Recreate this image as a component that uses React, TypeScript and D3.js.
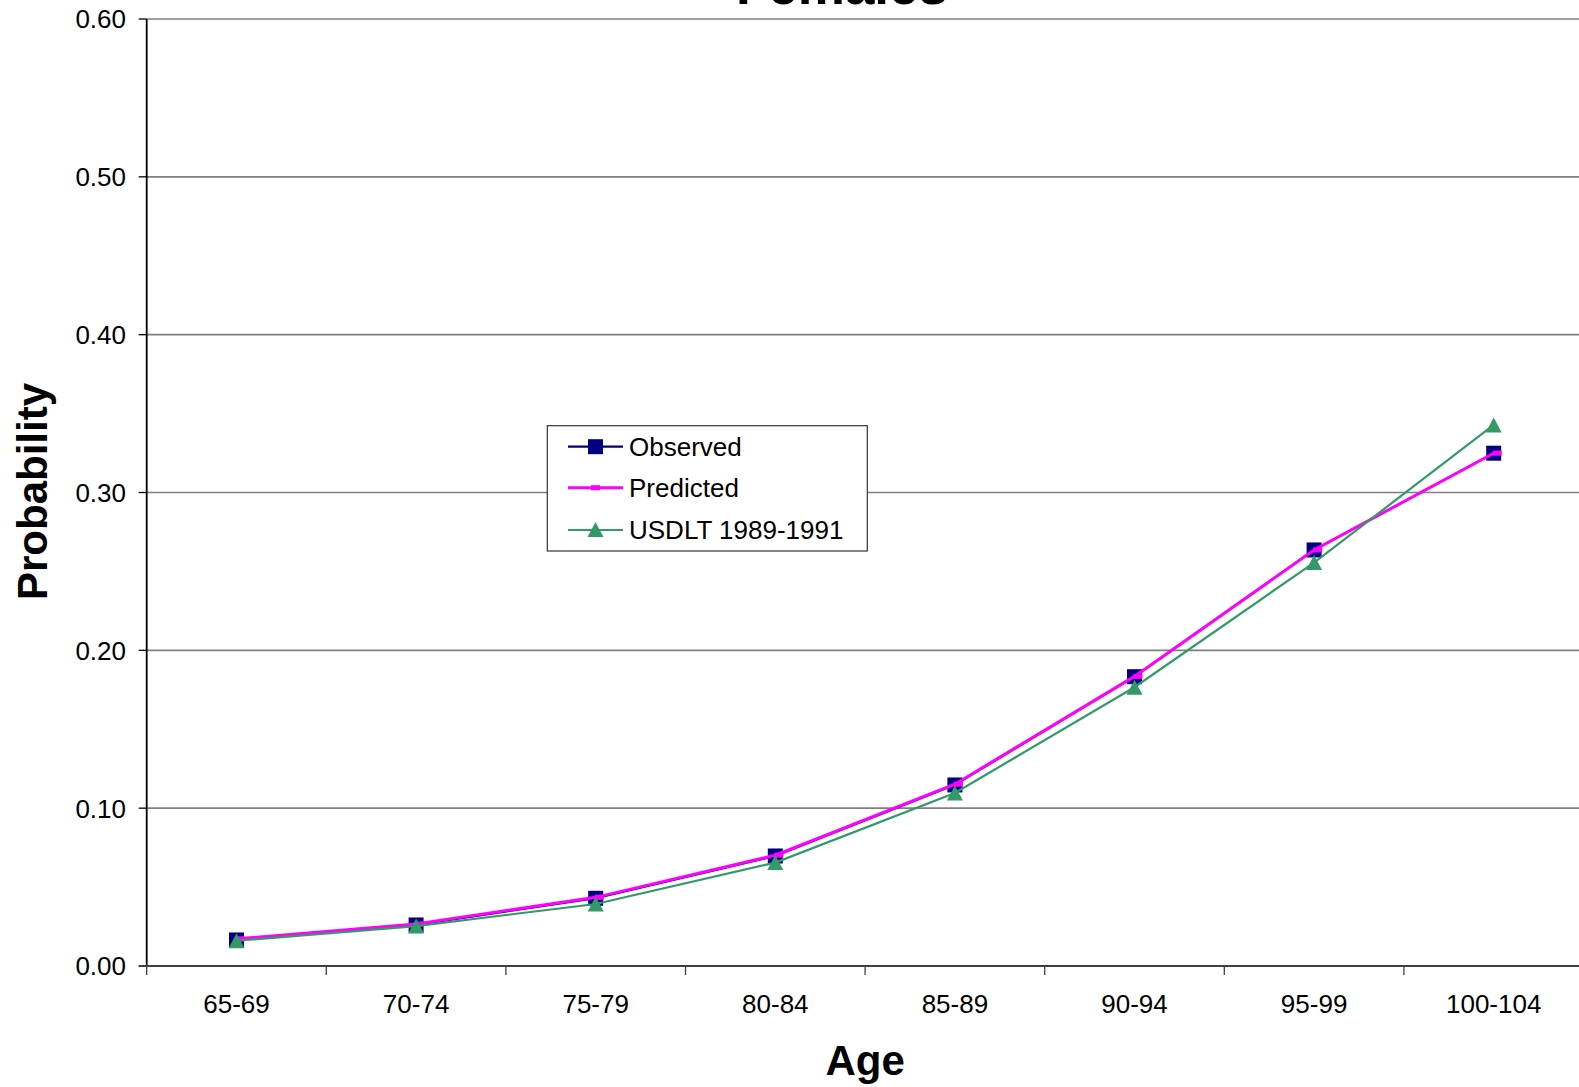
import React from "react";
import * as d3 from "d3";

const categories = ["65-69", "70-74", "75-79", "80-84", "85-89", "90-94", "95-99", "100-104"];
const observed = [0.0165, 0.026, 0.0429, 0.0697, 0.1147, 0.1833, 0.2636, 0.3249];
const predicted = [0.0172, 0.0266, 0.0435, 0.0702, 0.1152, 0.1835, 0.2636, 0.3249];
const usdlt = [0.016, 0.0253, 0.0393, 0.0655, 0.1096, 0.1766, 0.2556, 0.3428];
const yTicks = [0, 0.1, 0.2, 0.3, 0.4, 0.5, 0.6];

const W = 1579;
const H = 1087;
const left = 146.7;
const right = 1583.5;
const top = 19;
const bottom = 966;
const FONT = "'Liberation Sans', Arial, Helvetica, sans-serif";

const NAVY = "#000080";
const MAGENTA = "#FF00FF";
const GREEN = "#339966";

export default function App() {
  const x = d3.scaleBand<string>().domain(categories).range([left, right]);
  const y = d3.scaleLinear().domain([0, 0.6]).range([bottom, top]);
  const cx = (i: number) => (x(categories[i]) as number) + x.bandwidth() / 2;

  const line = d3
    .line<number>()
    .x((_, i) => cx(i))
    .y((d) => y(d));

  const tri = (px: number, py: number) =>
    `M${px},${py - 7.5}L${px + 8},${py + 7.5}L${px - 8},${py + 7.5}Z`;

  const boundaries = d3.range(categories.length + 1).map((i) => left + i * x.bandwidth());

  const legendRows = [
    { label: "Observed", y: 446.7, kind: "obs" },
    { label: "Predicted", y: 487.7, kind: "pred" },
    { label: "USDLT 1989-1991", y: 530, kind: "us" },
  ];

  return (
    <svg
      width={W}
      height={H}
      style={{ position: "absolute", left: 0, top: 0, background: "#fff" }}
      fontFamily={FONT}
    >
      <rect x={0} y={0} width={W} height={H} fill="#fff" />
      {/* title */}
      <text x={842} y={4} textAnchor="middle" fontSize={53} fontWeight="bold" fill="#000">
        Females
      </text>

      {/* gridlines */}
      {yTicks.slice(1).map((t) => (
        <line key={t} x1={left} x2={right} y1={y(t)} y2={y(t)} stroke="#808080" strokeWidth={1.6} />
      ))}

      {/* y axis */}
      <line x1={left} x2={left} y1={top} y2={bottom} stroke="#000" strokeWidth={1.8} />
      {yTicks.map((t) => (
        <g key={t}>
          <line x1={left - 8} x2={left} y1={y(t)} y2={y(t)} stroke="#000" strokeWidth={1.3} />
          <text x={126} y={y(t)} dy="0.36em" textAnchor="end" fontSize={26} fill="#000">
            {t.toFixed(2)}
          </text>
        </g>
      ))}

      {/* x axis */}
      <line x1={left - 8} x2={right} y1={bottom} y2={bottom} stroke="#404040" strokeWidth={2} />
      {boundaries.map((b, i) => (
        <line key={i} x1={b} x2={b} y1={bottom} y2={bottom + 9} stroke="#404040" strokeWidth={1.3} />
      ))}
      {categories.map((c, i) => (
        <text key={c} x={cx(i)} y={1013} textAnchor="middle" fontSize={26} fill="#000">
          {c}
        </text>
      ))}

      {/* axis titles */}
      <text x={(left + right) / 2} y={1075} textAnchor="middle" fontSize={42} fontWeight="bold" fill="#000">
        Age
      </text>
      <text
        transform={`translate(47,491.5) rotate(-90)`}
        textAnchor="middle"
        fontSize={42}
        fontWeight="bold"
        fill="#000"
      >
        Probability
      </text>

      {/* Observed */}
      <path d={line(observed) as string} fill="none" stroke={NAVY} strokeWidth={2} />
      {observed.map((v, i) => (
        <rect key={i} x={cx(i) - 7.5} y={y(v) - 7.5} width={15} height={15} fill={NAVY} />
      ))}

      {/* Predicted */}
      <path d={line(predicted) as string} fill="none" stroke={MAGENTA} strokeWidth={3} />
      {predicted.map((v, i) => (
        <rect key={i} x={cx(i) - 1} y={y(v) - 2.5} width={9} height={5} fill={MAGENTA} />
      ))}

      {/* USDLT */}
      <path d={line(usdlt) as string} fill="none" stroke={GREEN} strokeWidth={2.2} />
      {usdlt.map((v, i) => (
        <path key={i} d={tri(cx(i), y(v))} fill={GREEN} />
      ))}

      {/* legend */}
      <rect x={547.3} y={425.7} width={320} height={125.3} fill="#fff" stroke="#333" strokeWidth={1.2} />
      {legendRows.map((r) => (
        <g key={r.label}>
          <line
            x1={568}
            x2={623}
            y1={r.y}
            y2={r.y}
            stroke={r.kind === "obs" ? NAVY : r.kind === "pred" ? MAGENTA : GREEN}
            strokeWidth={r.kind === "pred" ? 3 : 2.2}
          />
          {r.kind === "obs" && <rect x={588} y={r.y - 7.5} width={15} height={15} fill={NAVY} />}
          {r.kind === "pred" && <rect x={591} y={r.y - 2.5} width={9} height={5} fill={MAGENTA} />}
          {r.kind === "us" && <path d={tri(595.5, r.y - 0.5)} fill={GREEN} />}
          <text x={629} y={r.y} dy="0.36em" fontSize={26} fill="#000">
            {r.label}
          </text>
        </g>
      ))}
    </svg>
  );
}
